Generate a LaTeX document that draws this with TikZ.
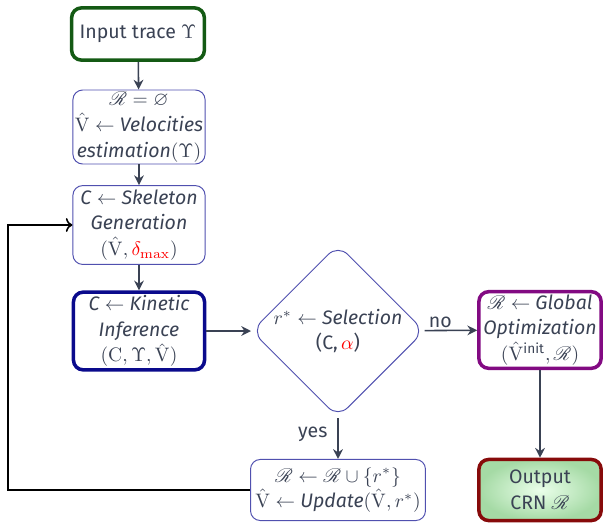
\documentclass[tikz,border=0pt]{standalone}
\usepackage{amsmath,amssymb}
\usepackage{mathrsfs}
\usepackage[no-math]{fontspec}
\setmainfont{Fira Sans}
\usetikzlibrary{shapes.geometric,arrows.meta}
\definecolor{inkgray}{RGB}{58,66,84}
\definecolor{stepblue}{RGB}{80,80,175}
\definecolor{inputgreen}{RGB}{20,90,20}
\definecolor{kinnavy}{RGB}{10,10,140}
\definecolor{optpurple}{RGB}{130,10,130}
\definecolor{outred}{RGB}{135,10,10}
\definecolor{outgreen}{RGB}{165,218,165}

\begin{document}
\begin{tikzpicture}[x=0.018cm, y=-0.018cm,
		every node/.style={text=inkgray, align=center, inner sep=1pt, font=\fontsize{10}{13.2}\selectfont},
		stepbox/.style={draw=stepblue, line width=0.5pt, rounded corners=5pt},
		bigbox/.style={line width=1.8pt, rounded corners=5pt},
		flow/.style={draw=inkgray, line width=0.8pt, -{Stealth[length=5pt,width=5pt]}}]
			%%%%% START %%%%%
			
			\useasboundingbox (0, 0) rectangle (610, 523);
			
			\node[bigbox, draw=inputgreen, minimum width=2.39cm, minimum height=0.94cm] (input) at (138, 34) {Input trace $\Upsilon$};
			
			\node[stepbox, minimum width=2.38cm, minimum height=1.28cm] (velo) at (139, 127) {$\mathscr{R} = \varnothing$\\ $\hat{\mathrm{V}} \leftarrow$ \textit{Velocities}\\ \textit{estimation}$(\Upsilon)$};
			\node[stepbox, minimum width=2.38cm, minimum height=1.42cm] (skel) at (139, 225) {\textit{C} $\leftarrow$ \textit{Skeleton}\\ \textit{Generation}\\ $(\hat{\mathrm{V}}, \textcolor{red}{\delta_{\max}})$};
			\node[bigbox, draw=kinnavy, minimum width=2.36cm, minimum height=1.4cm] (kin) at (139, 331) {\textit{C} $\leftarrow$ \textit{Kinetic}\\ \textit{Inference}\\ $(\mathrm{C}, \Upsilon, \hat{\mathrm{V}})$};
			
			\node[diamond, draw=stepblue, line width=0.5pt, rounded corners=7pt, minimum width=2.97cm, minimum height=3.0cm, inner sep=0pt] (sel) at (338, 331) {$r^{*} \leftarrow$ \textit{Selection}\\ (C,\,$\textcolor{red}{\alpha}$)};
			
			\node[bigbox, draw=optpurple, minimum width=2.2cm, minimum height=1.38cm] (glob) at (540, 330) {$\mathscr{R} \leftarrow$ \textit{Global}\\ \textit{Optimization}\\ $(\hat{\mathrm{V}}^{\text{init}}, \mathscr{R})$};
			
			\node[stepbox, minimum width=3.15cm, minimum height=1.1cm] (upd) at (338, 490) {$\mathscr{R} \leftarrow \mathscr{R} \cup \{r^{*}\}$\\ $\hat{\mathrm{V}} \leftarrow$ \textit{Update}$(\hat{\mathrm{V}}, r^{*})$};
			
			\node[bigbox, draw=outred, inner color=green!8, outer color=outgreen, minimum width=2.2cm, minimum height=1.1cm] (out) at (540, 490) {Output\\ CRN $\mathscr{R}$};
			
			\draw[flow] (input) -- (velo);
			\draw[flow] (velo) -- (skel);
			\draw[flow] (skel) -- (kin);
			\draw[flow] (kin) -- (sel);
			\draw[flow] (sel) -- node[above, pos=0.3] {no} (glob);
			\draw[flow] (sel) -- node[left, pos=0.4, xshift=-4pt] {yes} (upd);
			\draw[flow] (glob) -- (out);
			
			\coordinate (lpb) at (8, 490);
			\coordinate (lpt) at (8, 225);
			\draw[line width=0.8pt, ->] (upd.west) -- (lpb) -- (lpt) -- (skel.west);
			
			%%%%% END %%%%%
		\end{tikzpicture}
\end{document}
